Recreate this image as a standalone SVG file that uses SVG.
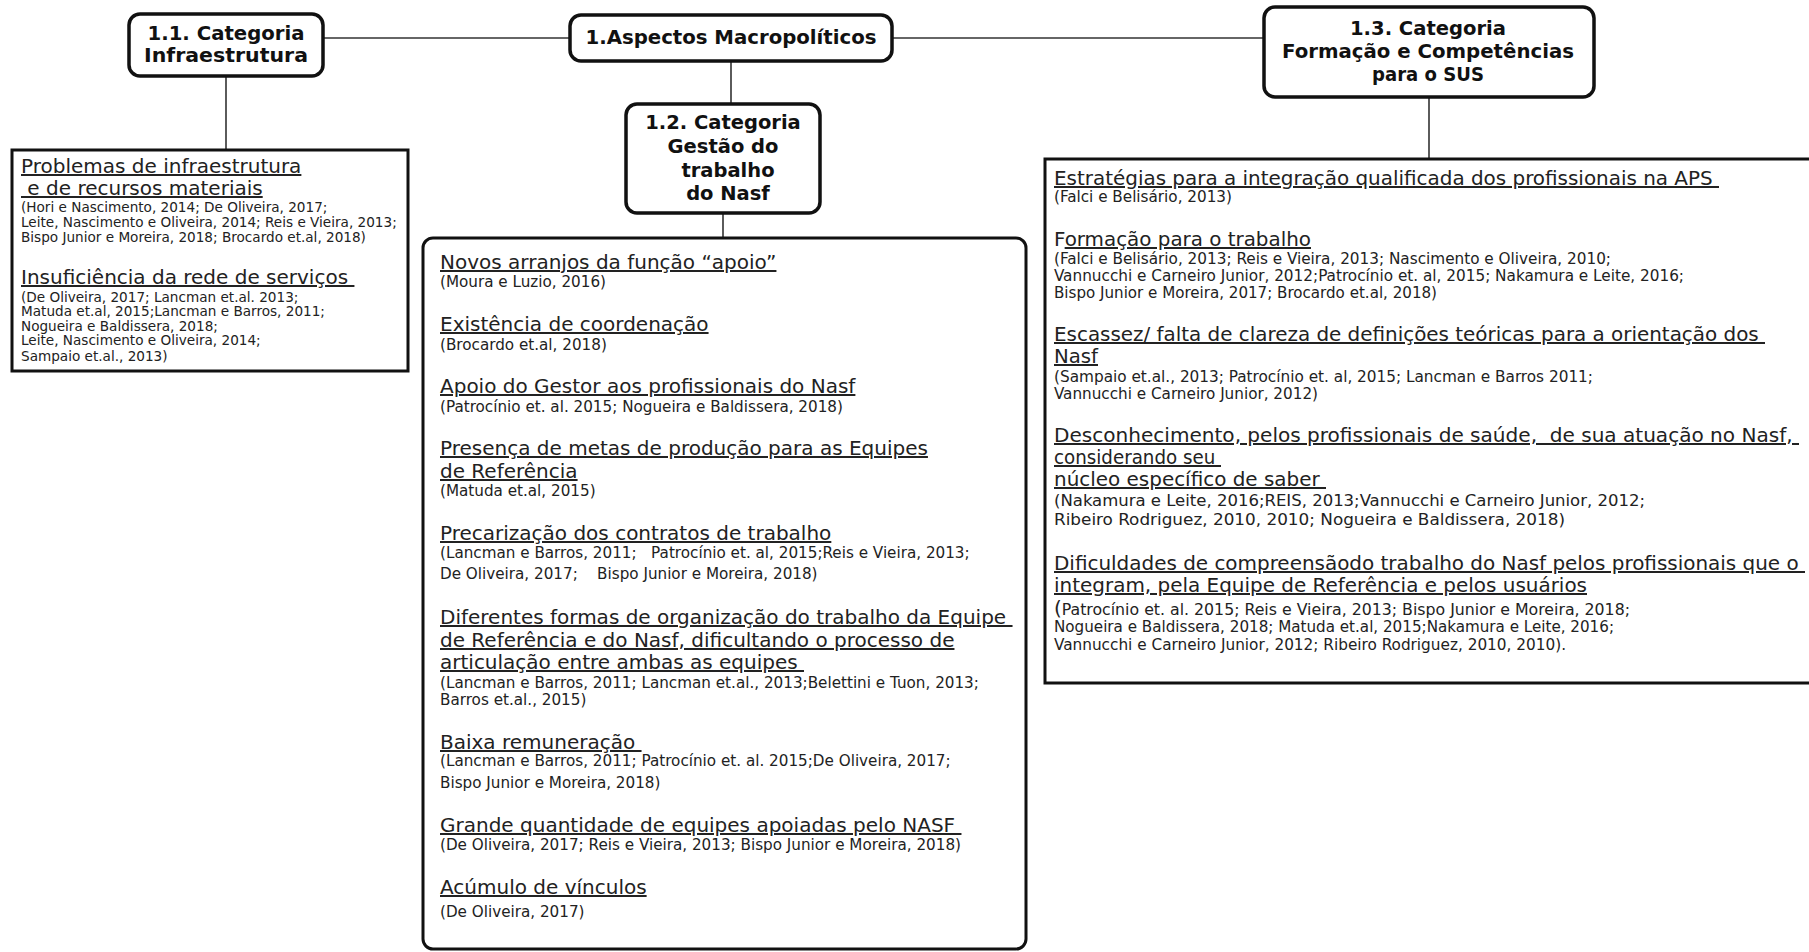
<svg xmlns="http://www.w3.org/2000/svg" width="1809" height="952" viewBox="0 0 1809 952">
<style>
.bg{fill:#fff}
.conn{stroke:#333;stroke-width:1.6;fill:none}
.tbox{fill:#fff;stroke:#111;stroke-width:3.5}
.cbox{fill:#fff;stroke:#111;stroke-width:3}
.title{font-family:"DejaVu Sans",Verdana,sans-serif;font-weight:bold;font-size:19.5px;fill:#111;text-anchor:middle}
.h{font-family:"DejaVu Sans",Verdana,sans-serif;font-size:20px;fill:#222;text-decoration:underline;white-space:pre}
.r{font-family:"DejaVu Sans",Verdana,sans-serif;font-size:13.6px;fill:#222;white-space:pre}
.rm{font-family:"DejaVu Sans",Verdana,sans-serif;font-size:15.2px;fill:#222;white-space:pre}
.hn{font-family:"DejaVu Sans Condensed","Liberation Sans Narrow","Liberation Sans",sans-serif;font-size:20px;fill:#222;white-space:pre}
.u{text-decoration:underline}
.rn{font-family:"DejaVu Sans Condensed","Liberation Sans Narrow","Liberation Sans",sans-serif;font-size:15px;fill:#222;white-space:pre}
</style>
<rect class="bg" x="0" y="0" width="1809" height="952"/>
<g id="connectors">
<line class="conn" x1="323" y1="38" x2="570" y2="38"/>
<line class="conn" x1="892" y1="38" x2="1264" y2="38"/>
<line class="conn" x1="226" y1="76" x2="226" y2="150"/>
<line class="conn" x1="731" y1="61" x2="731" y2="104"/>
<line class="conn" x1="723" y1="213" x2="723" y2="238"/>
<line class="conn" x1="1429" y1="97" x2="1429" y2="159"/>
</g>
<g id="n-macro">
<rect class="tbox" x="570" y="15" width="322" height="46" rx="11"/>
<text class="title" x="731" y="44" textLength="291" lengthAdjust="spacingAndGlyphs">1.Aspectos Macropolíticos</text>
</g>
<g id="n-infra">
<rect class="tbox" x="129" y="14" width="194" height="62" rx="11"/>
<text class="title" x="226" y="40" textLength="157" lengthAdjust="spacingAndGlyphs">1.1. Categoria</text>
<text class="title" x="226" y="62" textLength="164" lengthAdjust="spacingAndGlyphs">Infraestrutura</text>
</g>
<g id="n-gestao">
<rect class="tbox" x="626" y="104" width="194" height="109" rx="11"/>
<text class="title" x="723" y="129">1.2. Categoria</text>
<text class="title" x="723" y="153">Gestão do</text>
<text class="title" x="728" y="177">trabalho</text>
<text class="title" x="728" y="200">do Nasf</text>
</g>
<g id="n-formacao">
<rect class="tbox" x="1264" y="7" width="330" height="90" rx="11"/>
<text class="title" x="1428" y="35" textLength="156" lengthAdjust="spacingAndGlyphs">1.3. Categoria</text>
<text class="title" x="1428" y="58" textLength="292" lengthAdjust="spacingAndGlyphs">Formação e Competências</text>
<text class="title" x="1428" y="81" textLength="112" lengthAdjust="spacingAndGlyphs">para o SUS</text>
</g>
<g id="n-infra-items">
<rect class="cbox" x="12" y="150" width="396" height="221"/>
<text class="h" x="21" y="173">Problemas de infraestrutura</text>
<text class="h" x="21" y="195"> e de recursos materiais</text>
<text class="r" x="21" y="212">(Hori e Nascimento, 2014; De Oliveira, 2017;</text>
<text class="r" x="21" y="227">Leite, Nascimento e Oliveira, 2014; Reis e Vieira, 2013;</text>
<text class="r" x="21" y="242">Bispo Junior e Moreira, 2018; Brocardo et.al, 2018)</text>
<text class="h" x="21" y="284">Insuficiência da rede de serviços </text>
<text class="r" x="21" y="302">(De Oliveira, 2017; Lancman et.al. 2013;</text>
<text class="r" x="21" y="316">Matuda et.al, 2015;Lancman e Barros, 2011;</text>
<text class="r" x="21" y="331">Nogueira e Baldissera, 2018;</text>
<text class="r" x="21" y="345">Leite, Nascimento e Oliveira, 2014;</text>
<text class="r" x="21" y="361">Sampaio et.al., 2013)</text>
</g>
<g id="n-gestao-items">
<rect class="cbox" x="423" y="238" width="603" height="711" rx="10"/>
<text class="h" x="440" y="269">Novos arranjos da função “apoio”</text>
<text class="rm" x="440" y="287">(Moura e Luzio, 2016)</text>
<text class="h" x="440" y="331">Existência de coordenação</text>
<text class="rm" x="440" y="350">(Brocardo et.al, 2018)</text>
<text class="h" x="440" y="393">Apoio do Gestor aos profissionais do Nasf</text>
<text class="rm" x="440" y="412">(Patrocínio et. al. 2015; Nogueira e Baldissera, 2018)</text>
<text class="h" x="440" y="455">Presença de metas de produção para as Equipes</text>
<text class="h" x="440" y="478">de Referência</text>
<text class="rm" x="440" y="496">(Matuda et.al, 2015)</text>
<text class="h" x="440" y="540">Precarização dos contratos de trabalho</text>
<text class="rm" x="440" y="558">(Lancman e Barros, 2011;   Patrocínio et. al, 2015;Reis e Vieira, 2013;</text>
<text class="rm" x="440" y="579">De Oliveira, 2017;    Bispo Junior e Moreira, 2018)</text>
<text class="h" x="440" y="624">Diferentes formas de organização do trabalho da Equipe </text>
<text class="h" x="440" y="647">de Referência e do Nasf, dificultando o processo de</text>
<text class="h" x="440" y="669">articulação entre ambas as equipes </text>
<text class="rm" x="440" y="688">(Lancman e Barros, 2011; Lancman et.al., 2013;Belettini e Tuon, 2013;</text>
<text class="rm" x="440" y="705">Barros et.al., 2015)</text>
<text class="h" x="440" y="749">Baixa remuneração </text>
<text class="rm" x="440" y="766">(Lancman e Barros, 2011; Patrocínio et. al. 2015;De Oliveira, 2017;</text>
<text class="rm" x="440" y="788">Bispo Junior e Moreira, 2018)</text>
<text class="h" x="440" y="832">Grande quantidade de equipes apoiadas pelo NASF </text>
<text class="rm" x="440" y="850">(De Oliveira, 2017; Reis e Vieira, 2013; Bispo Junior e Moreira, 2018)</text>
<text class="h" x="440" y="894">Acúmulo de vínculos</text>
<text class="rm" x="440" y="917">(De Oliveira, 2017)</text>
</g>
<g id="n-formacao-items">
<rect class="cbox" x="1045" y="159" width="780" height="524"/>
<text class="hn u" x="1054" y="185" textLength="665" lengthAdjust="spacingAndGlyphs">Estratégias para a integração qualificada dos profissionais na APS </text>
<text class="rn" x="1054" y="202" textLength="178" lengthAdjust="spacingAndGlyphs">(Falci e Belisário, 2013)</text>
<text class="hn" x="1054" y="246" textLength="257" lengthAdjust="spacingAndGlyphs">F<tspan class="u">ormação para o trabalho</tspan></text>
<text class="rn" x="1054" y="264" textLength="557" lengthAdjust="spacingAndGlyphs">(Falci e Belisário, 2013; Reis e Vieira, 2013; Nascimento e Oliveira, 2010;</text>
<text class="rn" x="1054" y="281" textLength="630" lengthAdjust="spacingAndGlyphs">Vannucchi e Carneiro Junior, 2012;Patrocínio et. al, 2015; Nakamura e Leite, 2016;</text>
<text class="rn" x="1054" y="298" textLength="383" lengthAdjust="spacingAndGlyphs">Bispo Junior e Moreira, 2017; Brocardo et.al, 2018)</text>
<text class="hn u" x="1054" y="341" textLength="711" lengthAdjust="spacingAndGlyphs">Escassez/ falta de clareza de definições teóricas para a orientação dos </text>
<text class="hn u" x="1054" y="363" textLength="44" lengthAdjust="spacingAndGlyphs">Nasf</text>
<text class="rn" x="1054" y="382" textLength="539" lengthAdjust="spacingAndGlyphs">(Sampaio et.al., 2013; Patrocínio et. al, 2015; Lancman e Barros 2011;</text>
<text class="rn" x="1054" y="399" textLength="264" lengthAdjust="spacingAndGlyphs">Vannucchi e Carneiro Junior, 2012)</text>
<text class="hn u" x="1054" y="442" textLength="745" lengthAdjust="spacingAndGlyphs">Desconhecimento, pelos profissionais de saúde,  de sua atuação no Nasf, </text>
<text class="hn u" x="1054" y="464" textLength="167" lengthAdjust="spacingAndGlyphs">considerando seu </text>
<text class="hn u" x="1054" y="486" textLength="272" lengthAdjust="spacingAndGlyphs">núcleo específico de saber </text>
<text class="rn" x="1054" y="506" textLength="591" lengthAdjust="spacingAndGlyphs">(Nakamura e Leite, 2016;REIS, 2013;Vannucchi e Carneiro Junior, 2012;</text>
<text class="rn" x="1054" y="525" textLength="511" lengthAdjust="spacingAndGlyphs">Ribeiro Rodriguez, 2010, 2010; Nogueira e Baldissera, 2018)</text>
<text class="hn u" x="1054" y="570" textLength="751" lengthAdjust="spacingAndGlyphs">Dificuldades de compreensãodo trabalho do Nasf pelos profissionais que o </text>
<text class="hn u" x="1054" y="592" textLength="533" lengthAdjust="spacingAndGlyphs">integram, pela Equipe de Referência e pelos usuários</text>
<text class="rn" x="1054" y="615" textLength="576" lengthAdjust="spacingAndGlyphs"><tspan font-size="19px">(</tspan>Patrocínio et. al. 2015; Reis e Vieira, 2013; Bispo Junior e Moreira, 2018;</text>
<text class="rn" x="1054" y="632" textLength="560" lengthAdjust="spacingAndGlyphs">Nogueira e Baldissera, 2018; Matuda et.al, 2015;Nakamura e Leite, 2016;</text>
<text class="rn" x="1054" y="650" textLength="512" lengthAdjust="spacingAndGlyphs">Vannucchi e Carneiro Junior, 2012; Ribeiro Rodriguez, 2010, 2010).</text>
</g>
</svg>
